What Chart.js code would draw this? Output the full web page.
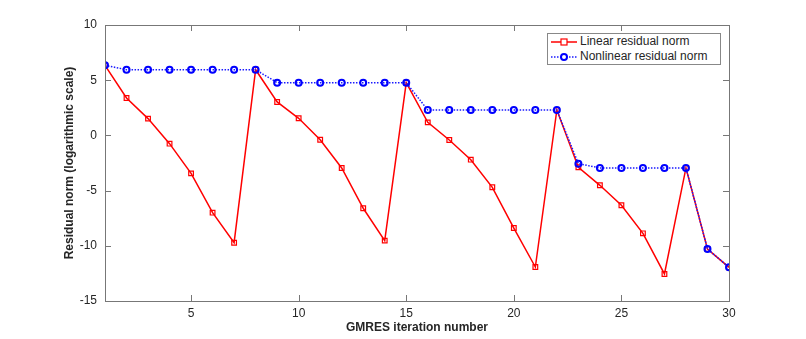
<!DOCTYPE html>
<html>
<head>
<meta charset="utf-8">
<script src="https://cdn.jsdelivr.net/npm/chart.js@4.4.0/dist/chart.umd.min.js"></script>
<style>
  html, body { margin: 0; padding: 0; background: #fff; }
  #wrap { position: relative; width: 806px; height: 339px; }
  #legend {
    position: absolute; left: 547px; top: 33px; width: 172px; height: 30px;
    border: 1px solid #888; background: #fff;
    font: 12px "Liberation Sans", Arial, sans-serif; color: #262626;
  }
  #legend div { height: 15px; line-height: 15px; white-space: nowrap; }
  #legend svg { vertical-align: middle; margin: 0 3px 0 3px; }
</style>
</head>
<body>
<div id="wrap">
  <canvas id="chart" width="806" height="339"></canvas>
  <div id="legend"></div>
</div>
<script>
// iterations 1..30
const iterations = [1,2,3,4,5,6,7,8,9,10,11,12,13,14,15,16,17,18,19,20,21,22,23,24,25,26,27,28,29,30];

// log10 residual norms
const linearNorm = [6.35, 3.39, 1.52, -0.75, -3.44, -7.0, -9.72,
                    5.95, 3.03, 1.55, -0.39, -2.95, -6.6, -9.53,
                    4.78, 1.18, -0.42, -2.2, -4.7, -8.39, -11.92,
                    2.30, -2.89, -4.52, -6.33, -8.87, -12.55,
                    -2.95, -10.29, -11.95];
const nonlinearNorm = [6.35, 5.95, 5.95, 5.95, 5.95, 5.95, 5.95,
                       5.95, 4.78, 4.78, 4.78, 4.78, 4.78, 4.78,
                       4.78, 2.30, 2.30, 2.30, 2.30, 2.30, 2.30,
                       2.30, -2.56, -2.95, -2.95, -2.95, -2.95,
                       -2.95, -10.29, -11.95];

const xTicks = [5, 10, 15, 20, 25, 30];
const yTicks = [-15, -10, -5, 0, 5, 10];
const seriesNames = ["Linear residual norm", "Nonlinear residual norm"];

const FONT = '"Liberation Sans", Arial, sans-serif';
const AXIS_COL = '#777';
const TEXT_COL = '#262626';

// box + inward ticks on all four sides (MATLAB style)
const boxTicks = {
  id: 'boxTicks',
  afterDatasetsDraw(chart) {
    const ctx = chart.ctx, a = chart.chartArea;
    const xs = chart.scales.x, ys = chart.scales.y;
    const L = 6;
    ctx.save();
    ctx.strokeStyle = AXIS_COL;
    ctx.lineWidth = 1;
    ctx.beginPath();
    xTicks.forEach(v => {
      const px = Math.round(xs.getPixelForValue(v)) + 0.5;
      ctx.moveTo(px, a.bottom); ctx.lineTo(px, a.bottom - L);
      ctx.moveTo(px, a.top); ctx.lineTo(px, a.top + L);
    });
    yTicks.forEach(v => {
      const py = Math.round(ys.getPixelForValue(v)) + 0.5;
      ctx.moveTo(a.left, py); ctx.lineTo(a.left + L, py);
      ctx.moveTo(a.right, py); ctx.lineTo(a.right - L, py);
    });
    ctx.stroke();
    ctx.strokeRect(Math.round(a.left) + 0.5, Math.round(a.top) + 0.5,
                   Math.round(a.right - a.left), Math.round(a.bottom - a.top));
    ctx.restore();
  }
};

new Chart(document.getElementById('chart').getContext('2d'), {
  type: 'line',
  data: {
    labels: iterations,
    datasets: [{
      label: seriesNames[0],
      data: linearNorm,
      borderColor: '#ff0000',
      borderWidth: 1.5,
      pointStyle: 'rect',
      pointRadius: 3.3,
      pointBorderWidth: 1.2,
      pointBorderColor: '#ff0000',
      pointBackgroundColor: 'rgba(255,255,255,0)',
      tension: 0,
      order: 2
    }, {
      label: seriesNames[1],
      data: nonlinearNorm,
      borderColor: '#1a1aff',
      borderWidth: 1.5,
      borderDash: [1.5, 1.5],
      pointStyle: 'circle',
      pointRadius: 3,
      pointBorderWidth: 2,
      pointBorderColor: '#0000ff',
      pointBackgroundColor: 'rgba(255,255,255,0)',
      tension: 0,
      order: 1
    }]
  },
  options: {
    responsive: false,
    animation: false,
    layout: { padding: { left: 62, right: 77, top: 25, bottom: 0 } },
    plugins: { legend: { display: false }, tooltip: { enabled: false } },
    scales: {
      x: {
        type: 'linear', min: 1, max: 30,
        afterBuildTicks: s => { s.ticks = xTicks.map(v => ({ value: v })); },
        afterFit: s => { s.height = 38; },
        grid: { display: false, drawTicks: false },
        border: { display: false },
        ticks: { color: TEXT_COL, font: { family: FONT, size: 12 }, padding: 5, maxRotation: 0 },
        title: { display: true, text: 'GMRES iteration number', color: TEXT_COL,
                 font: { family: FONT, size: 12, weight: 'bold' }, padding: { top: 0, bottom: 4 } }
      },
      y: {
        type: 'linear', min: -15, max: 10,
        afterBuildTicks: s => { s.ticks = yTicks.map(v => ({ value: v })); },
        afterFit: s => { s.width = 43; },
        grid: { display: false, drawTicks: false },
        border: { display: false },
        ticks: { color: TEXT_COL, font: { family: FONT, size: 12 }, padding: 8 },
        title: { display: true, text: 'Residual norm (logarithmic scale)', color: TEXT_COL,
                 font: { family: FONT, size: 12, weight: 'bold' }, padding: { top: 0, bottom: 0 } }
      }
    }
  },
  plugins: [boxTicks]
});

// legend: line sample with marker, like the original
const legendSamples = [
  '<svg width="26" height="10"><line x1="0" y1="5" x2="26" y2="5" stroke="#ff0000" stroke-width="1.5"/><rect x="10" y="2" width="6" height="6" fill="#fff" stroke="#ff0000" stroke-width="1.2"/></svg>',
  '<svg width="26" height="10"><line x1="0" y1="5" x2="26" y2="5" stroke="#1a1aff" stroke-width="1.5" stroke-dasharray="1.5 1.5"/><circle cx="13" cy="5" r="3" fill="#fff" stroke="#0000ff" stroke-width="2"/></svg>'
];
document.getElementById('legend').innerHTML =
  seriesNames.map((n, i) => '<div>' + legendSamples[i] + n + '</div>').join('');
</script>
</body>
</html>
